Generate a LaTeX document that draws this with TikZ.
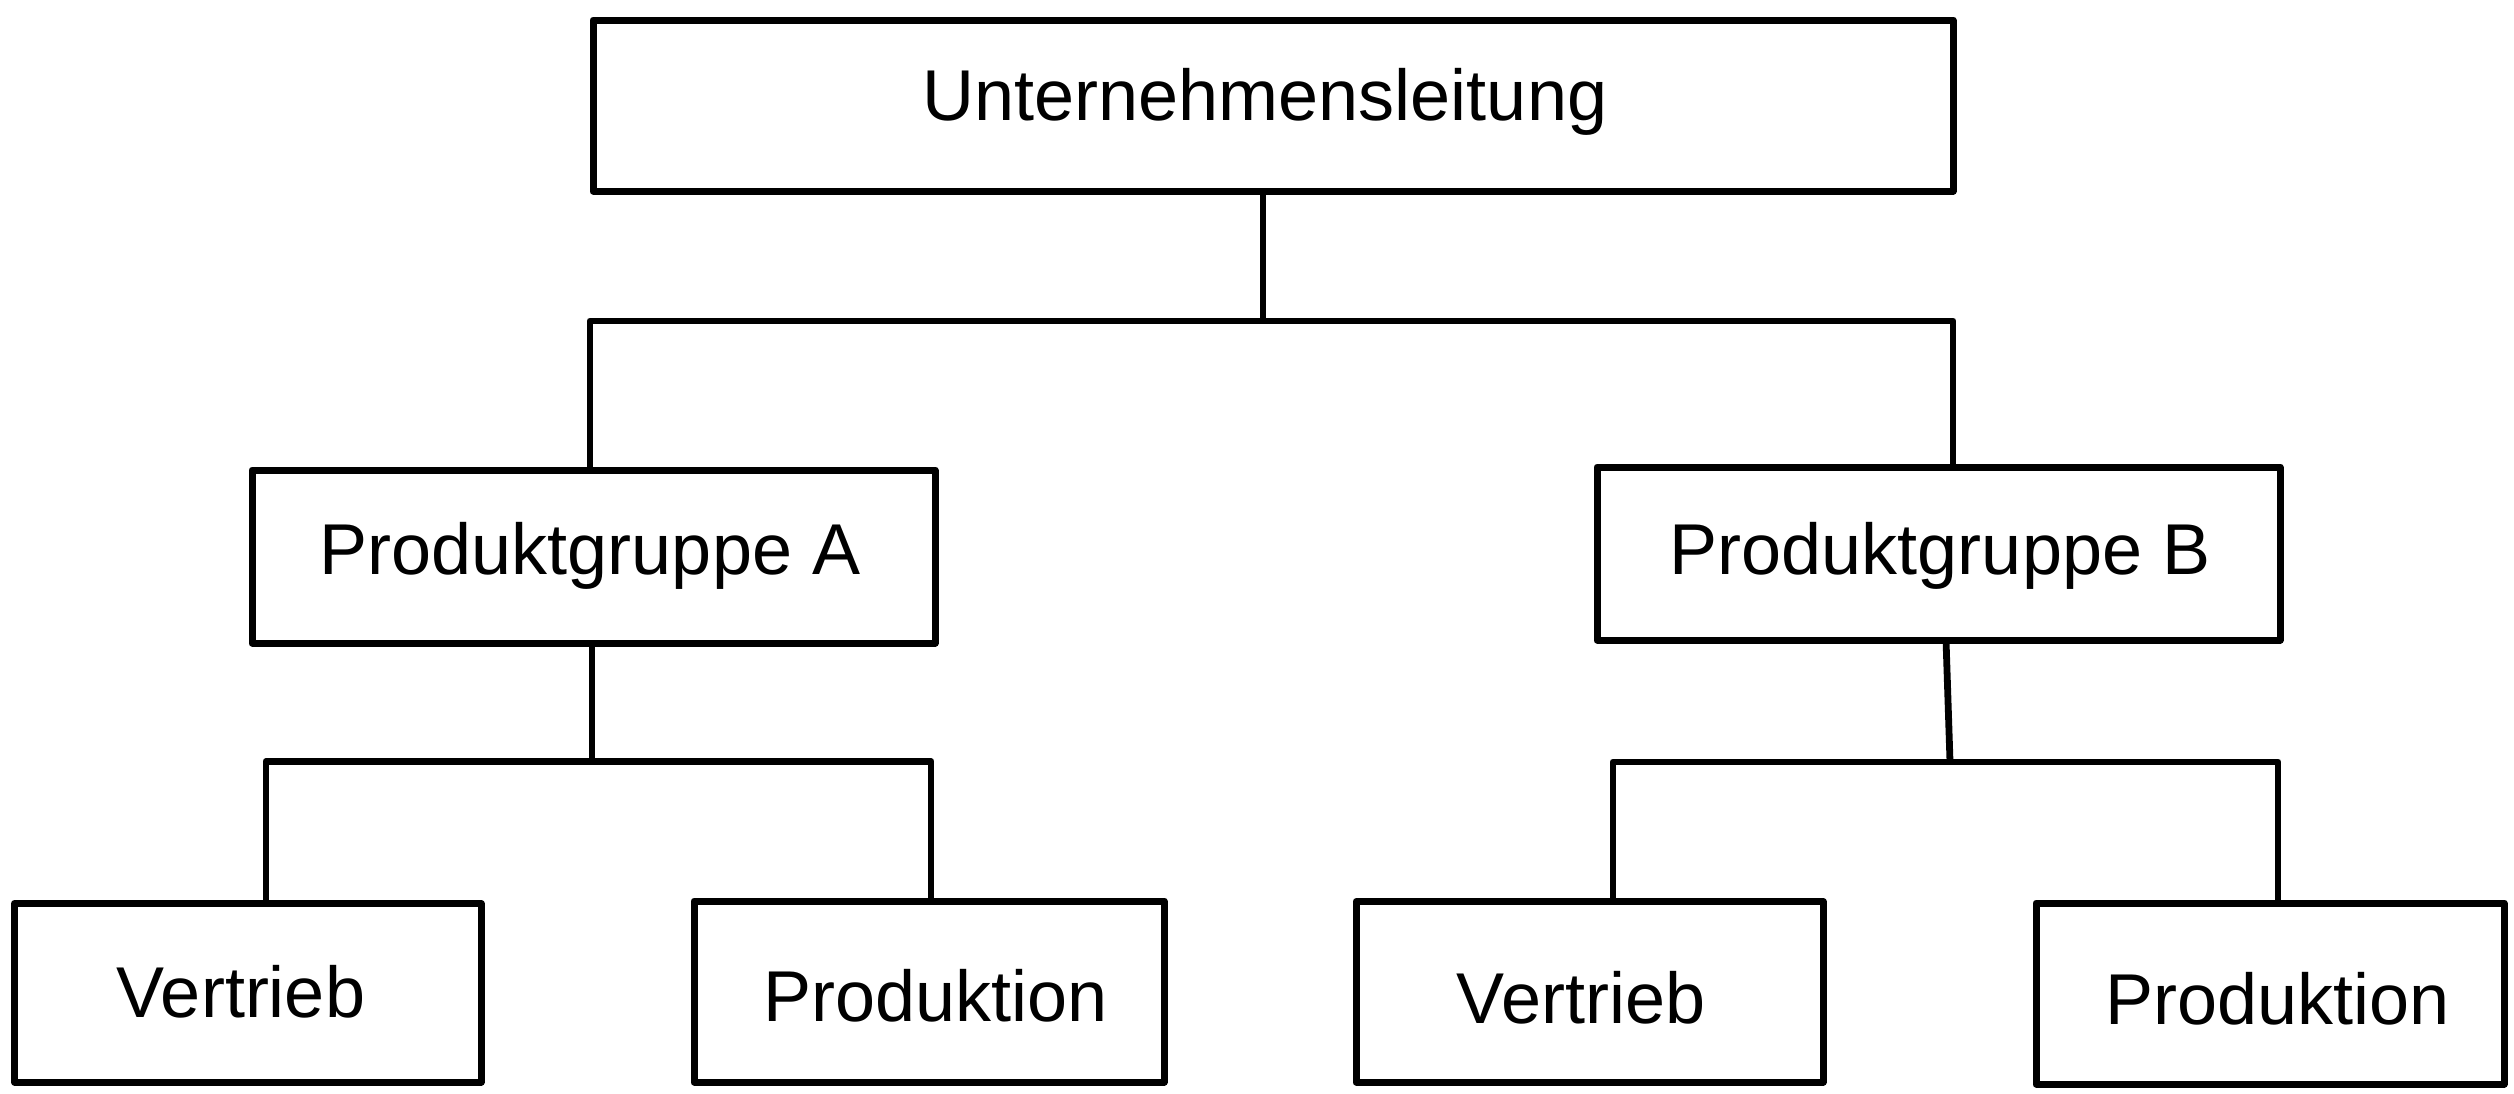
\documentclass[tikz,border=0pt]{standalone}
\usepackage{fontspec}
\setmainfont{Liberation Sans}
\begin{document}
\begin{tikzpicture}[x=0.5pt,y=-0.5pt,
  box/.style={draw=black,line width=3.5pt,line join=round,rectangle,inner sep=0pt,outer sep=0pt},
  lbl/.style={anchor=base,inner sep=0pt,font=\fontsize{36}{43}\selectfont},
  conn/.style={draw=black,line width=3.4pt,line join=round}]
\useasboundingbox (0,0) rectangle (2514,1093);
% boxes
\node[box,minimum width=680pt,minimum height=85.5pt] (ul) at (1273,105.5) {};
\node[box,minimum width=341.5pt,minimum height=86.5pt] (pa) at (593.5,556.5) {};
\node[box,minimum width=341.5pt,minimum height=86.5pt] (pb) at (1938.5,553.5) {};
\node[box,minimum width=233.25pt,minimum height=89.25pt] (v1) at (247.75,992.75) {};
\node[box,minimum width=235pt,minimum height=90.5pt] (p1) at (929,991.5) {};
\node[box,minimum width=233.5pt,minimum height=90.25pt] (v2) at (1589.5,991.75) {};
\node[box,minimum width=234pt,minimum height=90.5pt] (p2) at (2270,993.5) {};
% labels
\node[lbl] (tul) at (1265,120) {Unternehmensleitung};
\node[lbl] (tpa) at (590,574) {Produktgruppe A};
\node[lbl] (tpb) at (1940,574) {Produktgruppe B};
\node[lbl] (tv1) at (241,1017) {Vertrieb};
\node[lbl] (tp1) at (935.5,1021) {Produktion};
\node[lbl] (tv2) at (1581,1023) {Vertrieb};
\node[lbl] (tp2) at (2277.5,1024) {Produktion};
% junction coordinates
\coordinate (j0) at (1263,321);
\coordinate (j0l) at (590,321);
\coordinate (j0r) at (1953,321);
\coordinate (jA) at (592,761.5);
\coordinate (jAl) at (266,761.5);
\coordinate (jAr) at (931,761.5);
\coordinate (jBt) at (1946,640);
\coordinate (jB) at (1950,762);
\coordinate (jBl) at (1613,762);
\coordinate (jBr) at (2278,762);
% connectors
\draw[conn] (j0 |- ul.south) -- (j0);
\draw[conn] (j0l |- pa.north) -- (j0l) -- (j0r) -- (j0r |- pb.north);
\draw[conn] (jA |- pa.south) -- (jA);
\draw[conn] (jAl |- v1.north) -- (jAl) -- (jAr) -- (jAr |- p1.north);
\draw[conn] (jBt) -- (jB);
\draw[conn] (jBl |- v2.north) -- (jBl) -- (jBr) -- (jBr |- p2.north);
\end{tikzpicture}
\end{document}
